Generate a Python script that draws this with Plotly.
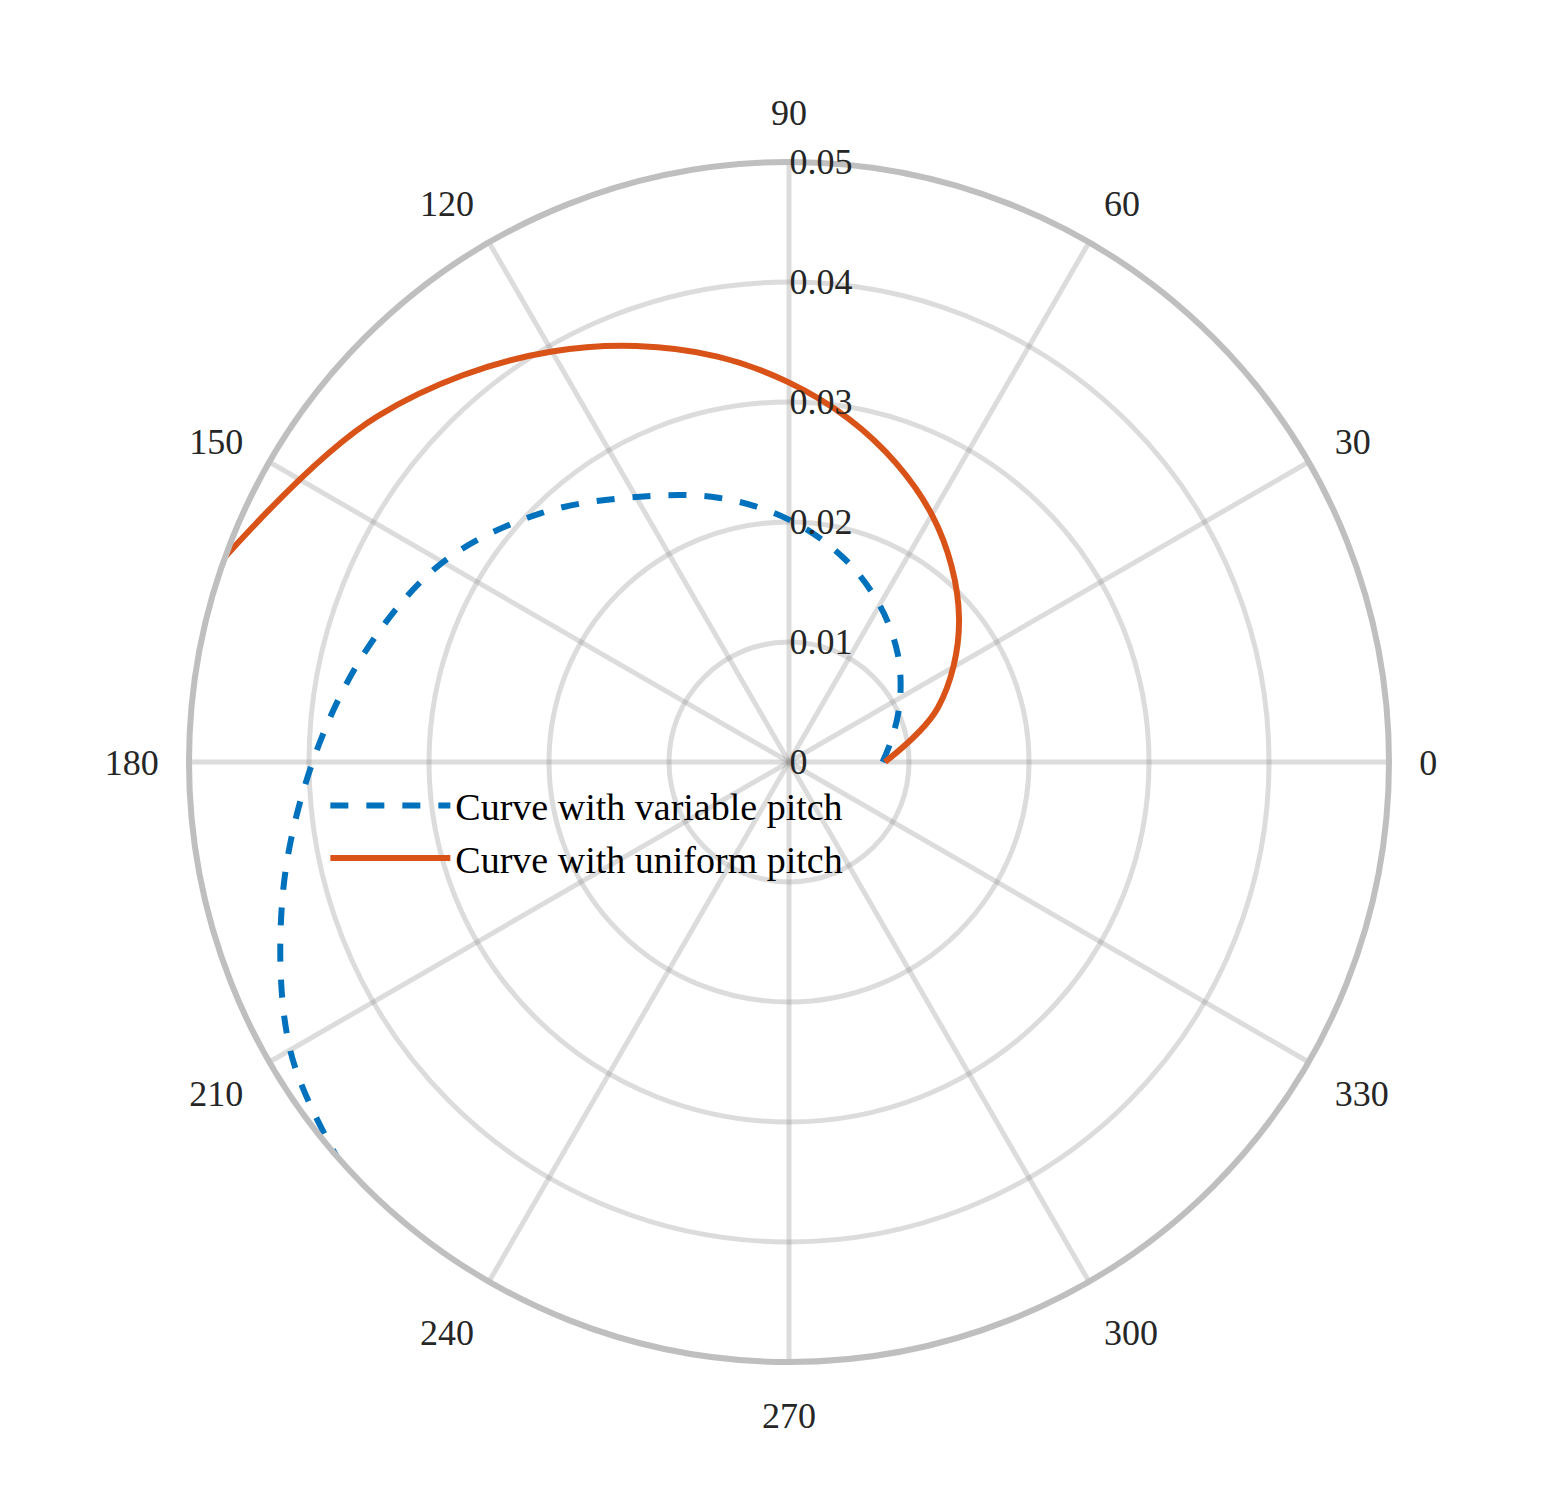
import plotly.graph_objects as go

# Variable pitch curve
theta_var = [0, 15, 30, 45, 60, 75, 90, 105, 120, 135, 150, 165, 180, 195, 210, 221]
r_var = [0.0078, 0.0090, 0.0107, 0.0128, 0.0151, 0.0176, 0.0202, 0.0228, 0.0255, 0.0293, 0.0333, 0.0364, 0.0397, 0.0437, 0.0480, 0.0500]

# Uniform pitch curve
theta_uni = [0, 20, 40, 60, 80, 100, 120, 140, 160]
r_uni = [0.0080, 0.0132, 0.0185, 0.0238, 0.0290, 0.0343, 0.0395, 0.0448, 0.0500]

angular_ticks = [0, 30, 60, 90, 120, 150, 180, 210, 240, 270, 300, 330]
radial_ticks = [0, 0.01, 0.02, 0.03, 0.04, 0.05]
radial_labels = ["0", "0.01", "0.02", "0.03", "0.04", "0.05"]

fig = go.Figure()
fig.add_trace(go.Scatterpolar(r=r_var, theta=theta_var, mode="lines",
                              line=dict(color="#0072BD", width=6, dash="dash", shape="spline"),
                              name="Curve with variable pitch"))
fig.add_trace(go.Scatterpolar(r=r_uni, theta=theta_uni, mode="lines",
                              line=dict(color="#D95319", width=6, shape="spline"),
                              name="Curve with uniform pitch"))

fig.update_layout(
    width=1548, height=1488,
    margin=dict(l=0, r=0, t=0, b=0),
    paper_bgcolor="white",
    font=dict(family="Liberation Serif", size=36, color="#262626"),
    polar=dict(
        domain=dict(x=[181/1548, 1381/1548], y=[1-1354/1488, 1-154/1488]),
        bgcolor="white",
        angularaxis=dict(tickvals=angular_ticks, ticktext=[str(t) for t in angular_ticks],
                         direction="counterclockwise", rotation=0,
                         gridcolor="rgba(150,150,150,0.33)", gridwidth=5,
                         linecolor="#bfbfbf", linewidth=6, ticks="outside", ticklen=20,
                         tickcolor="rgba(0,0,0,0)", tickfont=dict(size=36)),
        radialaxis=dict(range=[0, 0.05], tickvals=radial_ticks, ticktext=radial_labels,
                        angle=90, tickangle=90, side="clockwise",
                        gridcolor="rgba(150,150,150,0.33)", gridwidth=5,
                        showline=False, ticks="", tickfont=dict(size=36)),
    ),
    legend=dict(x=0.205, y=0.485, xanchor="left", yanchor="top",
                bgcolor="rgba(0,0,0,0)", font=dict(size=38, color="black"),
                tracegroupgap=60, itemwidth=120),
)
fig.write_html("out.html")
